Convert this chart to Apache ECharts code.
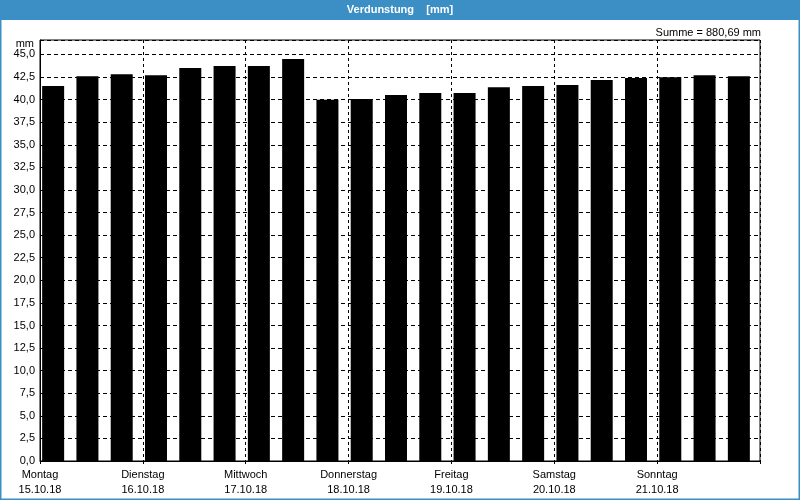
<!DOCTYPE html>
<html>
<head>
<meta charset="utf-8">
<script src="https://cdn.jsdelivr.net/npm/echarts@6/dist/echarts.min.js"></script>
<style>
  html, body { margin: 0; padding: 0; background: #ffffff; }
  #chart { width: 800px; height: 500px; }
</style>
</head>
<body>
<div id="chart"></div>
<script>
const days = ['Montag', 'Dienstag', 'Mittwoch', 'Donnerstag', 'Freitag', 'Samstag', 'Sonntag'];
const dates = ['15.10.18', '16.10.18', '17.10.18', '18.10.18', '19.10.18', '20.10.18', '21.10.18'];
const values = [41.50, 42.60, 42.82, 42.71, 43.49, 43.71, 43.71, 44.49, 39.98, 40.06, 40.50,
                40.72, 40.72, 41.38, 41.50, 41.61, 42.16, 42.38, 42.49, 42.71, 42.60];
const slotsPerDay = 3;
const slots = values.map((_, i) => days[Math.floor(i / slotsPerDay)] + ' ' + (i % slotsPerDay + 1));
const titleText = 'Verdunstung    [mm]';
const sumText = 'Summe = 880,69 mm';
const yUnit = 'mm';
const yMax = 46.6;
const yStep = 2.5;

const FONT = '"Liberation Sans", Arial, sans-serif';
const chart = echarts.init(document.getElementById('chart'), null, { renderer: 'canvas' });

chart.setOption({
  backgroundColor: '#ffffff',
  animation: false,
  textStyle: { fontFamily: FONT },
  graphic: [
    { type: 'rect', z: -10, shape: { x: 0, y: 0, width: 800, height: 20 }, style: { fill: '#3c8fc5' } },
    { type: 'rect', z: -10, shape: { x: 0.75, y: 0.75, width: 798.5, height: 498.5 },
      style: { fill: 'none', stroke: '#3c8fc5', lineWidth: 1.5 } }
  ],
  title: [
    { text: titleText, left: 'center', top: 4, padding: 0,
      textStyle: { color: '#ffffff', fontSize: 11, fontWeight: 'bold', fontFamily: FONT } },
    { text: sumText, right: 39, top: 27, padding: 0,
      textStyle: { color: '#000000', fontSize: 11, fontWeight: 'normal', fontFamily: FONT } }
  ],
  grid: { left: 40, right: 40, top: 40, bottom: 39, show: true, borderColor: '#000', borderWidth: 1, backgroundColor: 'transparent' },
  xAxis: [
    { type: 'category', data: slots, show: false, boundaryGap: true },
    { type: 'value', position: 'bottom', min: 0, max: values.length, interval: slotsPerDay,
      axisLine: { show: true, onZero: false, lineStyle: { color: '#000', width: 1 } },
      axisTick: { show: true, length: 3, lineStyle: { color: '#000' } },
      splitLine: { show: true, lineStyle: { color: '#000', type: [3, 3], width: 1 } },
      axisLabel: {
        show: true, margin: 6, color: '#000', fontSize: 11, lineHeight: 15, fontFamily: FONT,
        showMinLabel: true, showMaxLabel: true,
        formatter: function (v) {
          const i = Math.round(v / slotsPerDay);
          return i < days.length ? days[i] + '\n' + dates[i] : '';
        }
      }
    }
  ],
  yAxis: {
    type: 'value', min: 0, max: yMax, interval: yStep,
    name: yUnit, nameLocation: 'end', nameGap: -8,
    nameTextStyle: { color: '#000', fontSize: 11, align: 'right', verticalAlign: 'middle', padding: [0, 6, 0, 0], fontFamily: FONT },
    axisLine: { show: true, lineStyle: { color: '#000', width: 1 } },
    axisTick: { show: false },
    splitLine: { show: true, lineStyle: { color: '#000', type: [4, 3], width: 1 } },
    axisLabel: {
      margin: 5, color: '#000', fontSize: 11, fontFamily: FONT, showMaxLabel: true,
      formatter: function (v) { return v > 45.01 ? '' : v.toFixed(1).replace('.', ','); }
    }
  },
  series: [
    { type: 'bar', name: 'Verdunstung', xAxisIndex: 0, data: values, barWidth: 22, barGap: 0,
      itemStyle: { color: '#000' }, silent: true },
    { type: 'bar', name: 'spacer', xAxisIndex: 0, data: [], barWidth: 8, barGap: 0,
      itemStyle: { color: 'transparent' }, silent: true }
  ]
});
</script>
</body>
</html>
